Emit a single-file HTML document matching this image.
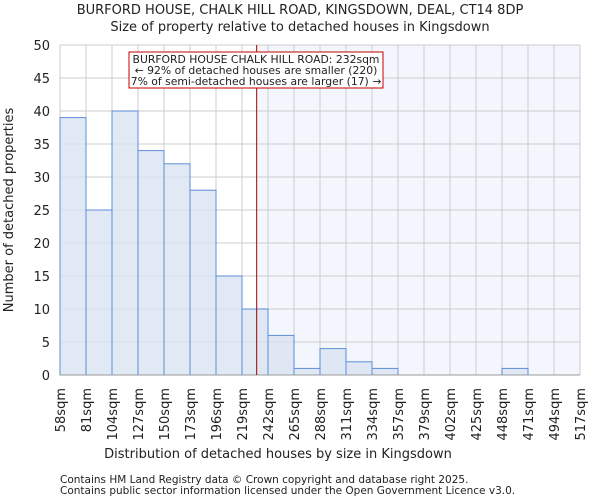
<!DOCTYPE html>
<html><head><meta charset="utf-8"><style>
body{margin:0;background:#fff;font-family:"DejaVu Sans","Liberation Sans",sans-serif}
svg text{font-family:"DejaVu Sans","Liberation Sans",sans-serif;fill:#222}
</style></head><body>
<svg id="c" width="600" height="500" xmlns="http://www.w3.org/2000/svg">
<text x="300" y="14" text-anchor="middle" font-size="13">BURFORD HOUSE, CHALK HILL ROAD, KINGSDOWN, DEAL, CT14 8DP</text>
<text x="300" y="31" text-anchor="middle" font-size="13">Size of property relative to detached houses in Kingsdown</text>
<g id="plot"></g>
<text x="278" y="458" text-anchor="middle" font-size="13">Distribution of detached houses by size in Kingsdown</text>
<text transform="translate(13,210) rotate(-90)" text-anchor="middle" font-size="13">Number of detached properties</text>
<text x="60" y="483" font-size="10.5" fill="#444">Contains HM Land Registry data © Crown copyright and database right 2025.</text>
<text x="60" y="494" font-size="10.5" fill="#444">Contains public sector information licensed under the Open Government Licence v3.0.</text>
</svg>
<script>
const binLabels=["58sqm","81sqm","104sqm","127sqm","150sqm","173sqm","196sqm","219sqm","242sqm","265sqm","288sqm","311sqm","334sqm","357sqm","379sqm","402sqm","425sqm","448sqm","471sqm","494sqm","517sqm"];
const counts=[39,25,40,34,32,28,15,10,6,1,4,2,1,0,0,0,0,1,0,0];
const yTicks=[0,5,10,15,20,25,30,35,40,45,50];
const propertyBinPos=7.565; // 232sqm in bin units
const NS="http://www.w3.org/2000/svg";
const L=60,R=580,T=45,B=375,yMax=50;
const bw=(R-L)/counts.length;
const xS=i=>L+i*bw, yS=v=>B-(v/yMax)*(B-T);
const g=document.getElementById('plot');
function mk(t,a){const e=document.createElementNS(NS,t);for(const k in a)e.setAttribute(k,a[k]);g.appendChild(e);return e;}
const px=xS(propertyBinPos);
let e=mk('rect',{x:px,y:T,width:R-px,height:B-T,fill:'#f3f6fd'});


yTicks.forEach(v=>{let l=mk('line',{x1:L,x2:R,y1:yS(v),y2:yS(v),stroke:'#ccc'});


let t=mk('text',{x:L-10,y:yS(v)+5,'text-anchor':'end','font-size':13});t.textContent=v;

});
binLabels.forEach((s,i)=>{let l=mk('line',{x1:xS(i),x2:xS(i),y1:T,y2:B,stroke:'#ccc'});


let t=mk('text',{transform:`translate(${xS(i)+5},388) rotate(-90)`,'text-anchor':'end','font-size':13});t.textContent=s;

});
counts.forEach((v,i)=>{if(v<=0)return;let r=mk('rect',{x:xS(i),y:yS(v),width:bw,height:B-yS(v),fill:'#dae3f3',stroke:'#5b8fd6','stroke-width':1,'fill-opacity':0.8});

});
mk('line',{x1:L,x2:R,y1:B,y2:B,stroke:'#999'});
e=mk('line',{x1:px,x2:px,y1:T,y2:B,stroke:'#a00000','stroke-width':1});


e=mk('rect',{x:129,y:52,width:254,height:36,fill:'#fff',stroke:'#c00000'});


["BURFORD HOUSE CHALK HILL ROAD: 232sqm","← 92% of detached houses are smaller (220)","7% of semi-detached houses are larger (17) →"].forEach((s,i)=>{let t=mk('text',{x:256,y:63+i*11,'text-anchor':'middle','font-size':10.8});t.textContent=s;

});
</script>
</body></html>
